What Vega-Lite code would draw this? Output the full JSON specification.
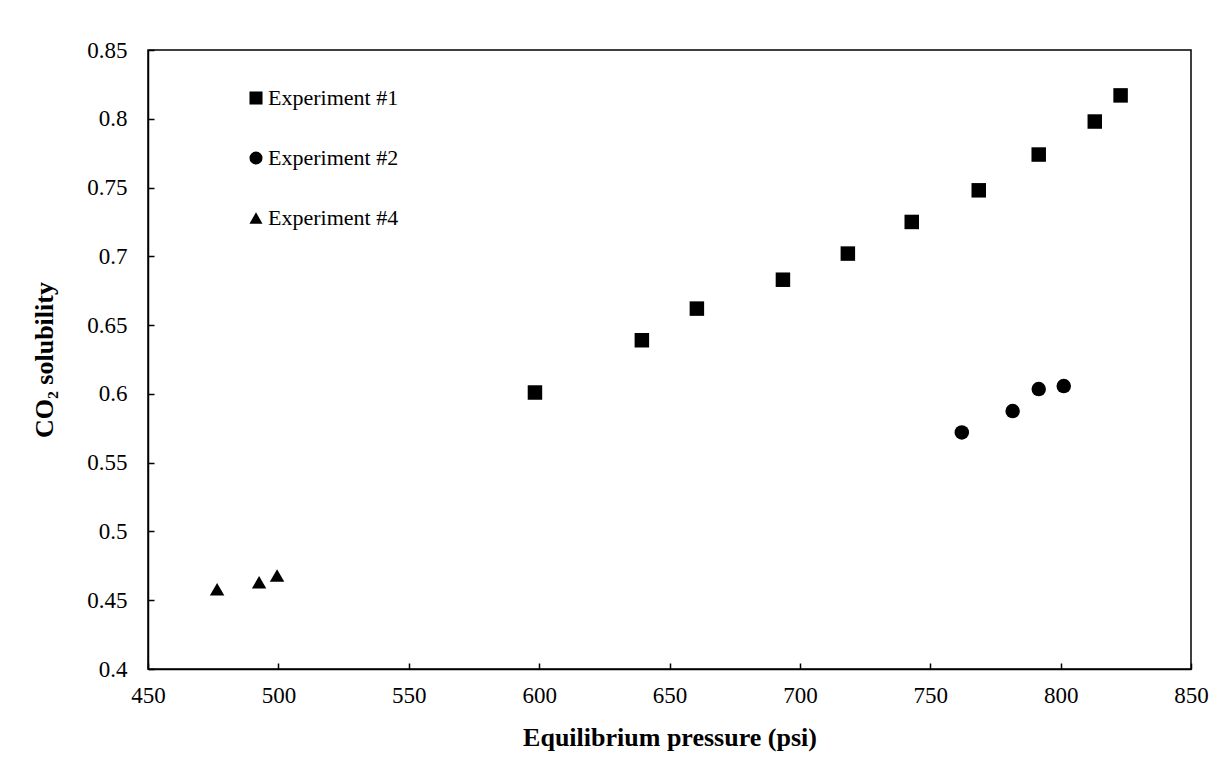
{
  "$schema": "https://vega.github.io/schema/vega-lite/v6.json",
  "width": 1043,
  "height": 619,
  "autosize": {"type": "none"},
  "padding": {"left": 148, "top": 50, "right": 28, "bottom": 101},
  "background": "white",
  "config": {
    "font": "Times New Roman, Liberation Serif, serif",
    "view": {"stroke": "black", "strokeWidth": 1.5},
    "axis": {
      "grid": false,
      "labelFlush": false,
      "domainColor": "black",
      "domainWidth": 1.5,
      "tickColor": "black",
      "tickWidth": 1.5,
      "tickSize": -6,
      "labelFont": "Times New Roman, Liberation Serif, serif",
      "labelFontSize": 23,
      "labelColor": "black",
      "titleFont": "Times New Roman, Liberation Serif, serif",
      "titleFontSize": 26,
      "titleFontWeight": "bold",
      "titleColor": "black"
    }
  },
  "data": {
    "values": [
      {"experiment": "Experiment #1", "pressure": 598.4, "solubility": 0.601},
      {"experiment": "Experiment #1", "pressure": 639.4, "solubility": 0.639},
      {"experiment": "Experiment #1", "pressure": 660.5, "solubility": 0.662},
      {"experiment": "Experiment #1", "pressure": 693.5, "solubility": 0.683},
      {"experiment": "Experiment #1", "pressure": 718.4, "solubility": 0.702},
      {"experiment": "Experiment #1", "pressure": 742.9, "solubility": 0.725},
      {"experiment": "Experiment #1", "pressure": 768.6, "solubility": 0.748},
      {"experiment": "Experiment #1", "pressure": 791.6, "solubility": 0.774},
      {"experiment": "Experiment #1", "pressure": 813.1, "solubility": 0.798},
      {"experiment": "Experiment #1", "pressure": 823.0, "solubility": 0.817},
      {"experiment": "Experiment #2", "pressure": 762.1, "solubility": 0.572},
      {"experiment": "Experiment #2", "pressure": 781.6, "solubility": 0.5875},
      {"experiment": "Experiment #2", "pressure": 791.6, "solubility": 0.6035},
      {"experiment": "Experiment #2", "pressure": 801.2, "solubility": 0.6057},
      {"experiment": "Experiment #4", "pressure": 476.5, "solubility": 0.458},
      {"experiment": "Experiment #4", "pressure": 492.6, "solubility": 0.463},
      {"experiment": "Experiment #4", "pressure": 499.5, "solubility": 0.468}
    ]
  },
  "mark": {"type": "point", "filled": true, "color": "black", "opacity": 1, "size": 210},
  "encoding": {
    "x": {
      "field": "pressure",
      "type": "quantitative",
      "title": "Equilibrium pressure (psi)",
      "scale": {"domain": [450, 850], "nice": false, "zero": false},
      "axis": {
        "values": [450, 500, 550, 600, 650, 700, 750, 800, 850],
        "format": "d",
        "labelPadding": 21,
        "titlePadding": 17
      }
    },
    "y": {
      "field": "solubility",
      "type": "quantitative",
      "title": "CO₂ solubility",
      "scale": {"domain": [0.4, 0.85], "nice": false, "zero": false},
      "axis": {
        "values": [0.4, 0.45, 0.5, 0.55, 0.6, 0.65, 0.7, 0.75, 0.8, 0.85],
        "format": ".2~f",
        "labelPadding": 27,
        "titlePadding": 29
      }
    },
    "shape": {
      "field": "experiment",
      "type": "nominal",
      "scale": {
        "domain": ["Experiment #1", "Experiment #2", "Experiment #4"],
        "range": ["square", "circle", "triangle-up"]
      },
      "legend": {
        "title": null,
        "orient": "none",
        "legendX": 97,
        "legendY": 37,
        "symbolSize": 170,
        "symbolFillColor": "black",
        "symbolStrokeColor": "black",
        "symbolStrokeWidth": 0,
        "labelFont": "Times New Roman, Liberation Serif, serif",
        "labelFontSize": 22,
        "labelColor": "black",
        "labelOffset": 1,
        "rowPadding": 38
      }
    }
  }
}
